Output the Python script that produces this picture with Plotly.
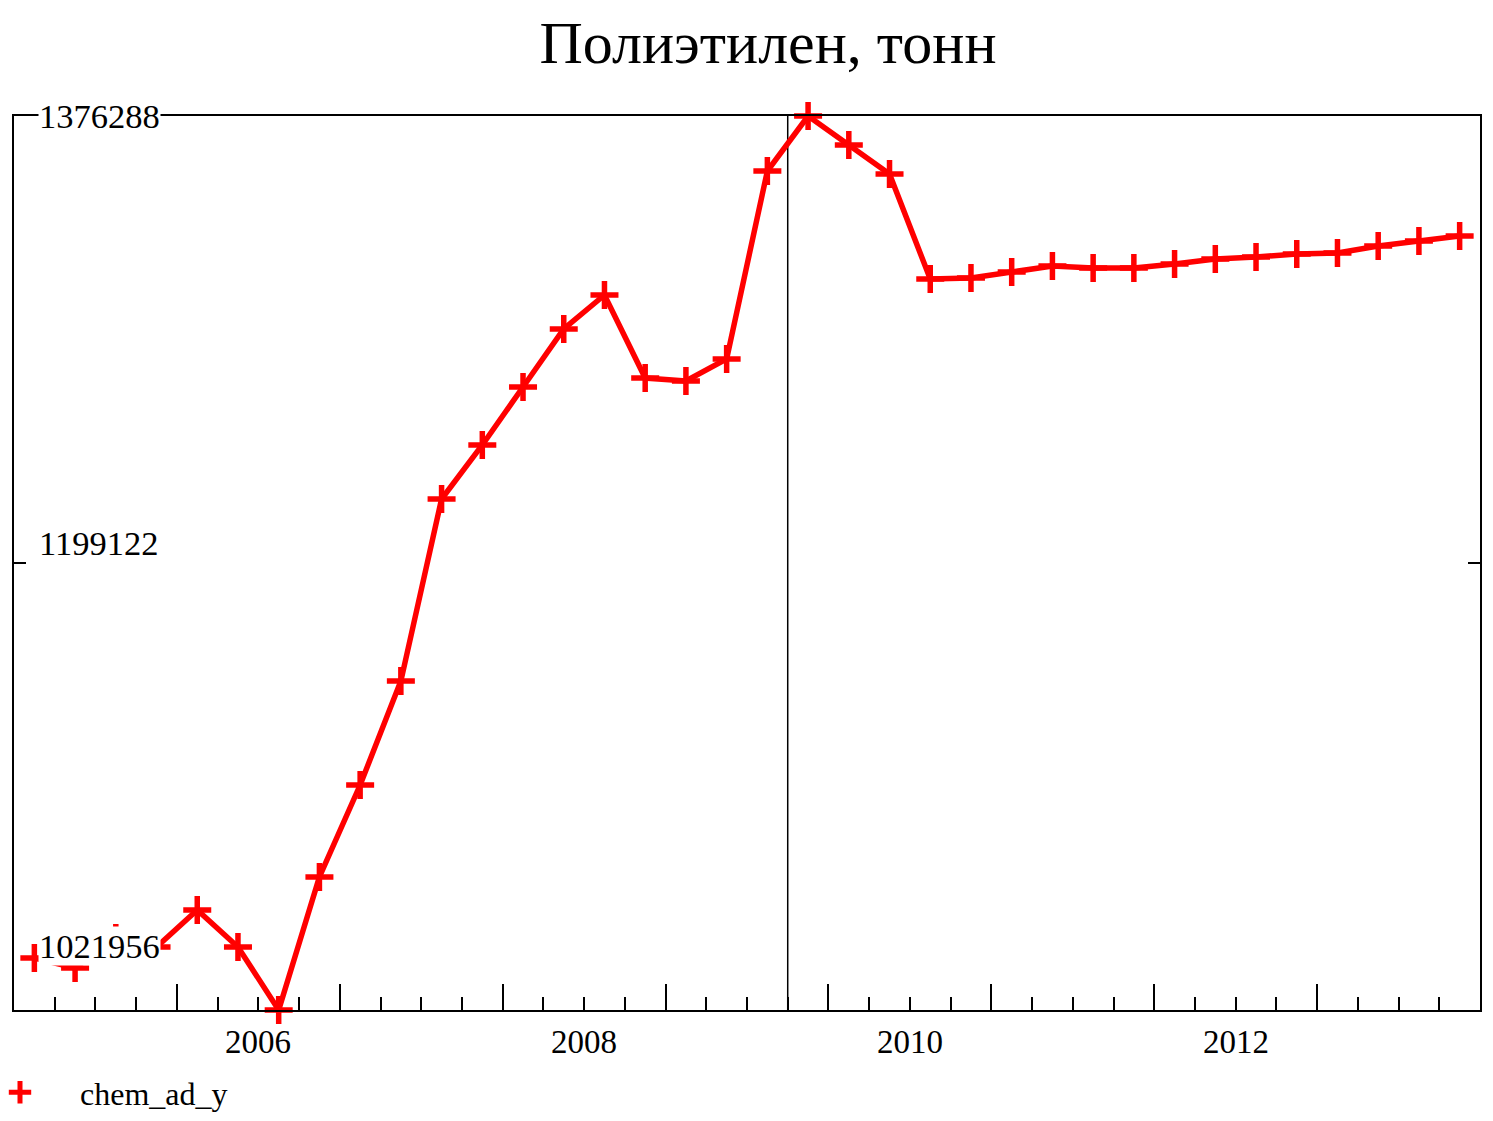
import plotly.graph_objects as go

# ---- data ----
quarters = [2005 + 0.125 + 0.25 * i for i in range(36)]
values = [
    1042561, 1038598, 1050488, 1046921, 1061586, 1046921, 1021956, 1074666,
    1111130, 1152350, 1224486, 1245889, 1268877, 1291865, 1305341, 1272444,
    1271255, 1279975, 1354489, 1376288, 1364794, 1353300, 1311683, 1312079,
    1314457, 1316835, 1316043, 1316043, 1317628, 1319610, 1320403, 1321592,
    1321988, 1324762, 1326744, 1328726,
]
series_name = "chem_ad_y"
title_text = "Полиэтилен, тонн"
y_ticks = [1021956, 1199122, 1376288]
y_tick_labels = ["1021956", "1199122", "1376288"]
x_label_years = [2006, 2008, 2010, 2012]
x_range = [2005, 2014]
year_starts = list(range(2006, 2014))
quarter_bounds = [2005 + 0.25 * k for k in range(1, 36) if k % 4 != 0]
split_x = 2009.75

FONT = "Liberation Serif, Times New Roman, serif"
RED = "#ff0000"
W, H = 1493, 1121

fig = go.Figure()
fig.add_trace(go.Scatter(
    x=quarters, y=values, mode="lines+markers", name=series_name,
    showlegend=False, cliponaxis=False,
    line=dict(color=RED, width=5.5),
    marker=dict(symbol="cross-thin", size=20, color=RED,
                line=dict(color=RED, width=5.5)),
))
# legend entry (marker only)
fig.add_trace(go.Scatter(
    x=[None], y=[None], mode="markers", name=series_name, showlegend=True,
    marker=dict(symbol="cross-thin", size=16, color=RED,
                line=dict(color=RED, width=5.5)),
))

fig.add_shape(type="line", xref="x", yref="paper", x0=split_x, x1=split_x,
              y0=0, y1=1, line=dict(color="black", width=1.5), layer="below")

# y tick labels (inside the plot, white background)
y_shifts = [64, 20, 0]
for v, lab, ys in zip(y_ticks, y_tick_labels, y_shifts):
    fig.add_annotation(x=0, xref="paper", y=v, yref="y", text=lab,
                       showarrow=False, xanchor="left", yanchor="middle",
                       xshift=24, yshift=ys, bgcolor="white", borderpad=0,
                       font=dict(family=FONT, size=34.5, color="black"))

# x year labels, centred in each year
for yr in x_label_years:
    fig.add_annotation(x=yr + 0.5, xref="x", y=0, yref="paper", text=str(yr),
                       showarrow=False, xanchor="center", yanchor="top",
                       yshift=-12,
                       font=dict(family=FONT, size=33, color="black"))

fig.update_layout(
    width=W, height=H, autosize=False,
    margin=dict(l=14, r=13, t=116, b=111, autoexpand=False),
    paper_bgcolor="white", plot_bgcolor="white",
    title=dict(text=title_text, x=768 / W, xanchor="center",
               y=1 - 42 / H, yanchor="middle",
               font=dict(family=FONT, size=60, color="black")),
    showlegend=True,
    legend=dict(xref="paper", yref="container", x=-54 / 1466, xanchor="left",
                y=1 - 1065 / H, yanchor="top", itemwidth=110,
                orientation="h", bgcolor="rgba(0,0,0,0)",
                font=dict(family=FONT, size=32, color="black")),
    xaxis=dict(range=x_range, showgrid=False, zeroline=False,
               showline=True, linecolor="black", linewidth=2, mirror=True,
               tickvals=year_starts, ticks="inside", ticklen=26, tickwidth=2,
               tickcolor="black", showticklabels=False,
               minor=dict(tickvals=quarter_bounds, ticks="inside", ticklen=13,
                          tickwidth=2, tickcolor="black", showgrid=False)),
    yaxis=dict(range=[y_ticks[0], y_ticks[-1]], showgrid=False, zeroline=False,
               showline=True, linecolor="black", linewidth=2, mirror="ticks",
               tickvals=[y_ticks[1]], ticks="inside", ticklen=12, tickwidth=2,
               tickcolor="black", showticklabels=False),
)

fig.write_html("out.html", config={"displayModeBar": False},
               post_script="document.body.style.margin='0';"
                           "document.body.style.overflow='hidden';")
